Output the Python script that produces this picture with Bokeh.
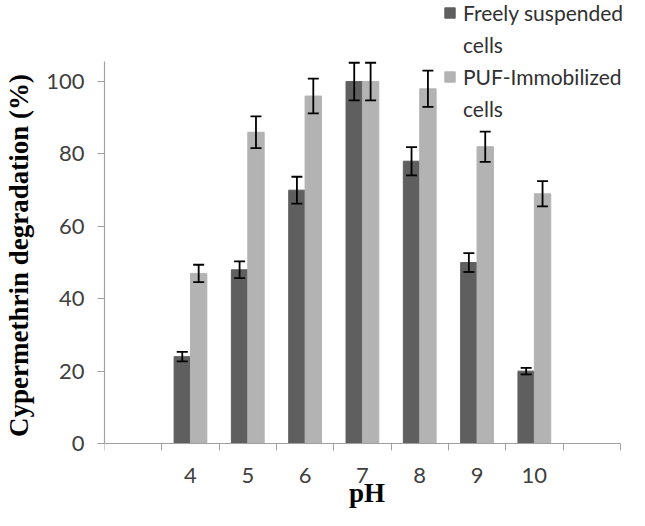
import numpy as np
from bokeh.plotting import figure
from bokeh.models import (Range1d, LinearAxis, FixedTicker, Whisker, TeeHead,
                          ColumnDataSource, Legend, LegendItem)
from bokeh.embed import file_html
from bokeh.resources import INLINE

# ---- data ----
ph_labels = ["4", "5", "6", "7", "8", "9", "10"]
freely = [24, 48, 70, 100, 78, 50, 20]
freely_err = [1.3, 2.3, 3.7, 5.2, 3.9, 2.6, 0.9]
puf = [47, 86, 96, 100, 98, 82, 69]
puf_err = [2.4, 4.4, 4.8, 5.2, 5.0, 4.2, 3.5]
y_ticks = [0, 20, 40, 60, 80, 100]
y_axis_top = 105.5
legend_lines = [("Freely suspended", 0), ("cells", None), ("PUF-Immobilized", 1), ("cells", None)]

n_cat = len(ph_labels) + 2          # blank category at each end (Excel-like)
centers = np.arange(len(ph_labels)) + 1.5
bw = 0.286

dark = "#5f5f5f"
light = "#b3b3b3"
axis_col = "#a0a0a0"
text_col = "#404040"
sans = "Lato"
serif = "Liberation Serif"

p = figure(width=629, height=510, x_range=Range1d(0, 9.16), y_range=Range1d(-18.5, 122.4),
           output_backend="svg", toolbar_location=None, x_axis_location=None,
           min_border_left=104, min_border_right=0, min_border_top=0, min_border_bottom=0)
p.outline_line_color = None
p.grid.visible = False
p.background_fill_color = "white"

src_f = ColumnDataSource(dict(x=centers - bw / 2, top=freely,
                              up=np.array(freely) + np.array(freely_err),
                              lo=np.array(freely) - np.array(freely_err)))
src_p = ColumnDataSource(dict(x=centers + bw / 2, top=puf,
                              up=np.array(puf) + np.array(puf_err),
                              lo=np.array(puf) - np.array(puf_err)))

r1 = p.vbar(x="x", top="top", width=bw, source=src_f, fill_color=dark, line_color=dark)
r2 = p.vbar(x="x", top="top", width=bw, source=src_p, fill_color=light, line_color=light)
r_blank = p.vbar(x=[], top=[], width=bw, fill_alpha=0, line_alpha=0)

for s in (src_f, src_p):
    w = Whisker(source=s, base="x", upper="up", lower="lo", line_color="black", line_width=1.8,
                upper_head=TeeHead(size=11, line_width=1.8, line_color="black"),
                lower_head=TeeHead(size=11, line_width=1.8, line_color="black"),
                level="overlay")
    p.add_layout(w)

# y axis
ya = p.yaxis[0]
ya.ticker = FixedTicker(ticks=y_ticks)
ya.bounds = (0, y_axis_top)
ya.minor_tick_line_color = None
ya.major_tick_in = 0
ya.major_tick_out = 7
ya.axis_line_color = axis_col
ya.major_tick_line_color = axis_col
ya.axis_line_width = 1.2
ya.major_label_text_font = sans
ya.major_label_text_font_size = "22px"
ya.major_label_text_color = text_col
ya.major_label_standoff = 13
ya.axis_label = "Cypermethrin degradation (%)"
ya.axis_label_text_font = serif
ya.axis_label_text_font_style = "bold"
ya.axis_label_text_font_size = "27px"
ya.axis_label_text_color = "black"
ya.axis_label_standoff = 9

# x axis at y=0: tick marks between categories
xa_ticks = LinearAxis(ticker=FixedTicker(ticks=list(range(n_cat + 1))),
                      major_label_overrides={i: "" for i in range(n_cat + 1)},
                      bounds=(0, n_cat), fixed_location=0)
xa_ticks.major_label_text_font_size = "1px"
xa_ticks.major_label_standoff = 0
xa_ticks.minor_tick_line_color = None
xa_ticks.major_tick_in = 0
xa_ticks.major_tick_out = 7
xa_ticks.axis_line_color = axis_col
xa_ticks.major_tick_line_color = axis_col
xa_ticks.axis_line_width = 1.2
p.add_layout(xa_ticks, "below")

# x axis at y=0: category labels at centres
xa_lab = LinearAxis(ticker=FixedTicker(ticks=list(centers)),
                    major_label_overrides={float(c): l for c, l in zip(centers, ph_labels)},
                    fixed_location=0)
xa_lab.axis_line_color = None
xa_lab.major_tick_line_color = None
xa_lab.major_tick_out = 0
xa_lab.major_tick_in = 0
xa_lab.minor_tick_line_color = None
xa_lab.major_label_text_font = sans
xa_lab.major_label_text_font_size = "22px"
xa_lab.major_label_text_color = text_col
xa_lab.major_label_standoff = 24
xa_lab.axis_label = "pH"
xa_lab.axis_label_text_font = serif
xa_lab.axis_label_text_font_style = "bold"
xa_lab.axis_label_text_font_size = "27px"
xa_lab.axis_label_text_color = "black"
xa_lab.axis_label_standoff = -8
p.add_layout(xa_lab, "below")

series_r = [r1, r2]
items = [LegendItem(label=t, renderers=[series_r[k] if k is not None else r_blank])
         for t, k in legend_lines]
legend = Legend(items=items, location=(339, 389), orientation="vertical")
legend.border_line_color = None
legend.background_fill_alpha = 0
legend.padding = 0
legend.margin = 0
legend.spacing = 7
legend.glyph_width = 13
legend.glyph_height = 13
legend.label_standoff = 7
legend.label_text_font = sans
legend.label_text_font_size = "21px"
legend.label_text_color = "#303030"
p.add_layout(legend, "center")

open("out.html", "w").write(file_html(p, INLINE))
